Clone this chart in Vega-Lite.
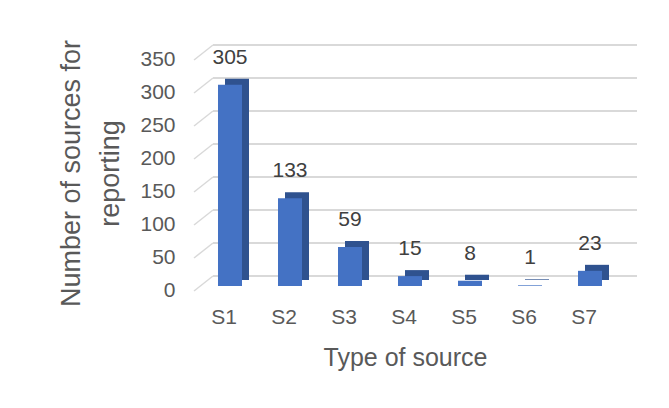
{
  "$schema": "https://vega.github.io/schema/vega-lite/v6.json",
  "width": 424,
  "height": 231,
  "autosize": {"type": "none"},
  "padding": {"left": 213, "top": 55, "right": 32, "bottom": 122},
  "background": "white",
  "config": {"view": {"stroke": null}, "font": "Liberation Sans"},
  "datasets": {
    "bars": [
      {"type": "S1", "count": 305},
      {"type": "S2", "count": 133},
      {"type": "S3", "count": 59},
      {"type": "S4", "count": 15},
      {"type": "S5", "count": 8},
      {"type": "S6", "count": 1},
      {"type": "S7", "count": 23}
    ],
    "grid": [{"count": 0}, {"count": 50}, {"count": 100}, {"count": 150}, {"count": 200}, {"count": 250}, {"count": 300}, {"count": 350}]
  },
  "encoding": {
    "y": {
      "field": "count", "type": "quantitative",
      "scale": {"domain": [0, 350], "nice": false},
      "axis": {
        "title": ["Number of sources for", "reporting"],
        "values": [0, 50, 100, 150, 200, 250, 300, 350],
        "grid": false, "domain": false, "ticks": false, "labelOverlap": false,
        "labelPadding": 38, "labelFontSize": 21, "labelColor": "#595959", "labelOffset": 4,
        "titleFontSize": 27, "titleFontWeight": "normal", "titleColor": "#595959",
        "titleX": -142, "titleY": 118, "titleBaseline": "middle", "titleLineHeight": 39
      }
    }
  },
  "layer": [
    {
      "data": {"name": "grid"},
      "mark": {"type": "rule", "yOffset": -10, "color": "#D9D9D9", "strokeWidth": 1.8},
      "encoding": {}
    },
    {
      "data": {"name": "grid"},
      "mark": {"type": "rule", "color": "#D9D9D9", "strokeWidth": 1.5, "xOffset": -19, "yOffset": 5, "y2Offset": -10},
      "encoding": {
        "x": {"value": 0},
        "x2": {"value": 0},
        "y2": {"field": "count"}
      }
    },
    {
      "data": {"name": "bars"},
      "mark": {"type": "bar", "xOffset": 7, "yOffset": -6, "y2Offset": -6, "color": "#2F528F"},
      "encoding": {
        "x": {
          "field": "type", "type": "nominal", "sort": null,
          "scale": {"paddingInner": 0.6, "paddingOuter": 0.3333, "align": 0.125},
          "axis": {
            "title": "Type of source", "domain": false, "ticks": false, "labelAngle": 0,
            "labelPadding": 31, "labelBaseline": "middle", "labelOffset": -6,
            "labelFontSize": 21, "labelColor": "#595959",
            "titleFontSize": 25, "titleFontWeight": "normal", "titleColor": "#595959",
            "titleX": 192, "titleY": 71, "titleBaseline": "middle"
          }
        }
      }
    },
    {
      "data": {"name": "bars"},
      "mark": {"type": "bar", "color": "#4472C4"},
      "encoding": {
        "x": {"field": "type", "type": "nominal", "sort": null}
      }
    },
    {
      "data": {"name": "bars"},
      "mark": {"type": "text", "dy": -27, "baseline": "middle", "fontSize": 21, "color": "#404040"},
      "encoding": {
        "x": {"field": "type", "type": "nominal", "sort": null},
        "text": {"field": "count", "type": "quantitative"}
      }
    }
  ]
}
